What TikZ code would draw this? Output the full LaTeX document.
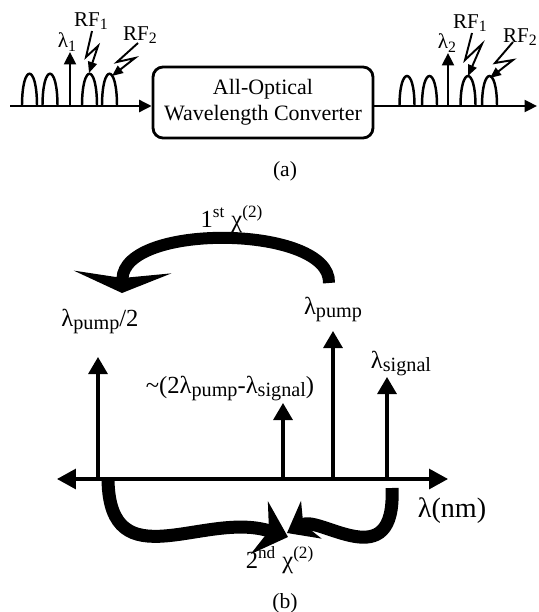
\documentclass[tikz,border=0pt]{standalone}
\usepackage{fontspec}
\setmainfont{Liberation Serif}
\usetikzlibrary{arrows.meta, positioning}

\newcommand{\lsub}[1]{\raisebox{-0.35ex}{\fontsize{11.5}{12}\selectfont #1}}
\newcommand{\ssub}[1]{\raisebox{-0.35ex}{\fontsize{9}{10}\selectfont #1}}

\begin{document}
\begin{tikzpicture}[x=0.02cm, y=-0.02cm,
    line/.style={line width=1.4pt},
    axis/.style={line width=1.4pt, -{Triangle[length=0.25cm, width=0.24cm]}},
    bolt/.style={line width=1.1pt, -{Triangle[length=0.22cm, width=0.18cm]}},
    conv/.style={draw, line width=1.6pt, rounded corners=0.2cm,
                 minimum width=4.4cm, minimum height=1.42cm, align=center,
                 font=\fontsize{12.5}{14.8}\selectfont},
    lbl/.style={font=\fontsize{12}{13}\selectfont, inner sep=0pt},
    sublbl/.style={font=\fontsize{12.3}{13}\selectfont, inner sep=0pt},
    blbl/.style={font=\fontsize{14}{15}\selectfont, inner sep=0pt, anchor=base},
    spec/.style={line width=1.8pt, -{Triangle[length=0.34cm, width=0.38cm]}},
    bigaxis/.style={line width=1.8pt, {Triangle[length=0.38cm, width=0.4cm]}-{Triangle[length=0.38cm, width=0.4cm]}},
    topchi/.style={line width=0.24cm, -{Stealth[length=0.42cm, width=1.95cm, inset=0.12cm]}},
    lowchi/.style={line width=0.26cm, -{Stealth[length=0.6cm, width=1.1cm, inset=0.2cm]}}
  ]
  \useasboundingbox (0,0) rectangle (538,612);

  % (a) converter
  \node[conv] (awc) at (263,102.5) {All-Optical\\Wavelength Converter};
  \coordinate (inStart) at (10,106);
  \coordinate (outEnd) at (537,106);
  \draw[axis] (inStart) -- (awc.west |- inStart);
  \draw[axis] (awc.east |- outEnd) -- (outEnd);

  % pulses
  \foreach \c in {29.5, 50, 89.5, 109.5} {
    \draw[line] (\c-7.5,106) .. controls (\c-7.5,63) and (\c+7.5,63) .. (\c+7.5,106);
  }
  \foreach \c in {407, 429.5, 468, 489.5} {
    \draw[line] (\c-7.5,106) .. controls (\c-7.5,66) and (\c+7.5,66) .. (\c+7.5,106);
  }

  % carriers
  \coordinate (lamA) at (70,106);
  \coordinate (lamAT) at (70,52);
  \coordinate (lamB) at (448,106);
  \coordinate (lamBT) at (448,53);
  \draw[axis] (lamA) -- (lamAT);
  \draw[axis] (lamB) -- (lamBT);
  \node[lbl] (lamAlbl) at (67,42) {λ\ssub{1}};
  \node[lbl] (lamBlbl) at (447,43) {λ\ssub{2}};

  % RF tones
  \node[lbl] (rfAin) at (91,21) {RF\ssub{1}};
  \node[lbl] (rfBin) at (140,35) {RF\ssub{2}};
  \node[lbl] (rfAout) at (470,23) {RF\ssub{1}};
  \node[lbl] (rfBout) at (520,37) {RF\ssub{2}};
  \draw[bolt] (92,31) -- (86,57) -- (98,46) -- (89,73);
  \draw[bolt] (138,43) -- (117,62) -- (135,58) -- (112,76);
  \draw[bolt] (472,33) -- (465,60) -- (482,44) -- (468,76);
  \draw[bolt] (513,42) -- (495,63) -- (513,60) -- (490,78);

  \node[sublbl] (capa) at (285,171) {(a)};

  % (b) spectrum
  \coordinate (axL) at (57,479);
  \coordinate (axR) at (448,479);
  \draw[bigaxis] (axL) -- (axR);

  \coordinate (half) at (98,479);
  \coordinate (halfT) at (98,357);
  \coordinate (idl) at (283,479);
  \coordinate (idlT) at (283,403);
  \coordinate (pmp) at (333,479);
  \coordinate (pmpT) at (333,331);
  \coordinate (sig) at (387,479);
  \coordinate (sigT) at (387,377);
  \draw[spec] (half) -- (halfT);
  \draw[spec] (idl) -- (idlT);
  \draw[spec] (pmp) -- (pmpT);
  \draw[spec] (sig) -- (sigT);

  \node[blbl] (halfLbl) at (100,326) {λ\lsub{pump}/2};
  \node[blbl] (pmpLbl) at (333,314) {λ\lsub{pump}};
  \node[blbl] (sigLbl) at (401,368) {λ\lsub{signal}};
  \node[blbl] (idlLbl) at (230,393) {\textasciitilde(2λ\lsub{pump}-λ\lsub{signal})};
  \node[blbl, font=\fontsize{16}{17}\selectfont] (nmLbl) at (452,517) {λ(nm)};

  % chi(2) processes
  \node[blbl] (firstChi) at (232,227) {1\textsuperscript{st} χ\textsuperscript{(2)}};
  \node[blbl] (secondChi) at (280,568) {2\textsuperscript{nd} χ\textsuperscript{(2)}};
  \coordinate (topS) at (329,283);
  \coordinate (topE) at (122,293);
  \draw[topchi] (topS) .. controls (331,225) and (124,222) .. (topE);
  \coordinate (lowLS) at (108,480);
  \coordinate (lowLE) at (288,537);
  \draw[lowchi] (lowLS) .. controls (110,582) and (205,510) .. (lowLE);
  \coordinate (lowRS) at (392,488);
  \coordinate (lowRE) at (287,533);
  \draw[lowchi, -{Stealth[length=0.55cm, width=0.85cm, inset=0.18cm]}] (lowRS) .. controls (396,578) and (320,515) .. (lowRE);

  \node[sublbl] (capb) at (285,603) {(b)};
\end{tikzpicture}
\end{document}
